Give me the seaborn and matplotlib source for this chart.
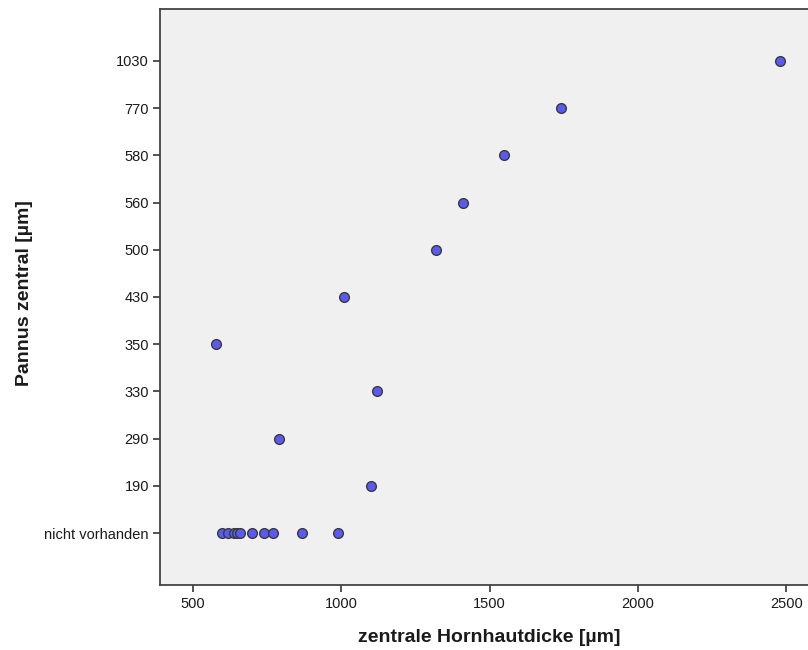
import matplotlib
matplotlib.use("Agg")
import matplotlib.pyplot as plt
import seaborn as sns
import pandas as pd

# categories (top to bottom)
categories = ["1030", "770", "580", "560", "500", "430", "350", "330", "290", "190", "nicht vorhanden"]

pannus = ["1030", "770", "580", "560", "500", "430", "350", "330", "290", "190",
          "nicht vorhanden", "nicht vorhanden", "nicht vorhanden", "nicht vorhanden", "nicht vorhanden",
          "nicht vorhanden", "nicht vorhanden", "nicht vorhanden", "nicht vorhanden", "nicht vorhanden"]
hornhaut = [2480, 1740, 1550, 1410, 1320, 1010, 580, 1120, 790, 1100,
            600, 620, 640, 650, 660, 700, 740, 770, 870, 990]

xticks = [500, 1000, 1500, 2000, 2500]

df = pd.DataFrame({"zentrale Hornhautdicke [µm]": hornhaut, "Pannus zentral [µm]": pannus})

sns.set_theme(style="white")
plt.rcParams["font.family"] = ["Liberation Sans", "DejaVu Sans"]

fig = plt.figure(figsize=(8.08, 6.5), dpi=100)
ax_w = 1 - 160 / 808 + 0.01
ax = fig.add_axes([160 / 808, 65 / 650, ax_w, (585 - 9) / 650])
ax.set_facecolor("#f0f0f0")

sns.stripplot(data=df, x="zentrale Hornhautdicke [µm]", y="Pannus zentral [µm]",
              order=categories, orient="h", jitter=False, ax=ax,
              color="#5a5af2", size=7.0, linewidth=1.0, edgecolor="#3a3a3a", zorder=3)

ax.set_xlim(390, 2600)
ax.set_ylim(len(categories) - 1 + 1.1, -1.1)
ax.set_xticks(xticks)
ax.set_xticklabels([str(v) for v in xticks])

for s in ["left", "bottom", "top"]:
    ax.spines[s].set_color("#444444")
    ax.spines[s].set_linewidth(1.3)
ax.spines["right"].set_visible(False)

ax.tick_params(axis="both", which="major", direction="out", length=5, width=1.3,
               color="#444444", labelsize=10.5, labelcolor="#1a1a1a", left=True, bottom=True, pad=3)
ax.tick_params(axis="x", pad=4)
ax.set_xlabel("zentrale Hornhautdicke [µm]", fontsize=14, fontweight="bold", color="#1a1a1a")
ax.set_ylabel("Pannus zentral [µm]", fontsize=14, fontweight="bold", color="#1a1a1a")
ax_px = 808 * ax_w
ax.xaxis.set_label_coords((489.5 - 160) / ax_px, (585 - 629) / 576)
ax.yaxis.set_label_coords((33 - 160) / ax_px, (585 - 293) / 576)

fig.savefig("out.png", dpi=100)
